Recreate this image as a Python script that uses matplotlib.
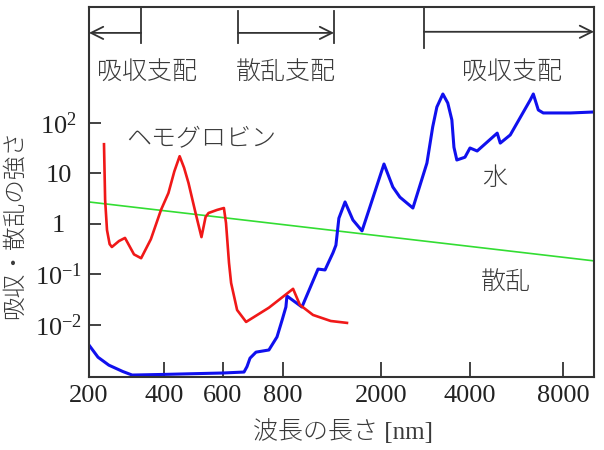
import numpy as np
import matplotlib as mp
mp.use('Agg')
import matplotlib.pyplot as plt
from matplotlib.ticker import FixedLocator, NullLocator

plt.rcParams['font.family'] = ['Liberation Serif', 'Noto Sans CJK JP']
plt.rcParams['mathtext.fontset'] = 'custom'
plt.rcParams['mathtext.rm'] = 'Liberation Serif'
plt.rcParams['mathtext.it'] = 'Liberation Serif:italic'

# hemoglobin absorption (wavelength nm, strength)
hb_wl = [240, 243, 248, 255, 261, 280, 296, 320, 339, 365, 392, 415, 435, 453, 468,
         483, 507, 527, 541, 551, 580, 603, 610, 620, 627, 647, 677, 753, 879, 937,
         1059, 1250, 1455]
hb_val = [38, 3.0, 0.76, 0.40, 0.35, 0.46, 0.53, 0.25, 0.21, 0.5, 1.9, 4.1, 11, 22, 13,
          6.5, 1.65, 0.55, 1.38, 1.65, 1.9, 2.07, 1.05, 0.17, 0.068, 0.0198, 0.0115, 0.022,
          0.052, 0.025, 0.0158, 0.012, 0.011]

# water absorption
w_wl = [200, 224, 253, 290, 315, 400, 485, 600, 670, 680, 690, 710, 753, 780, 797, 822,
        830, 955, 1110, 1185, 1277, 1312, 1349, 1429, 1538, 1675, 1803, 2047, 2193, 2317,
        2564, 2860, 2992, 3090, 3238, 3364, 3473, 3530, 3610, 3846, 4000, 4219, 4899, 5012,
        5400, 6266, 6412, 6655, 6906, 8440, 9950]
w_val = [0.0040, 0.0023, 0.0016, 0.0012, 0.00102, 0.00105, 0.00108, 0.00112, 0.00117,
         0.0015, 0.0022, 0.0029, 0.0032, 0.0058, 0.0125, 0.0227, 0.0375, 0.0227, 0.128,
         0.123, 0.27, 0.38, 1.3, 2.73, 1.2, 0.73, 2.17, 15.4, 5.4, 3.4, 2.07, 16.1, 84, 207,
         375, 249, 115, 33, 18.5, 21, 32, 27.9, 63, 40, 58, 285, 375, 181, 158, 158, 165]

# scattering
sc_wl = [200, 10000]
sc_val = [2.73, 0.186]

xticks = [200, 400, 600, 800, 2000, 4000, 8000]
yticks = [1e-2, 1e-1, 1, 10, 100]
ylabels = [r'$\mathregular{10^{-2}}$', r'$\mathregular{10^{-1}}$', '1', '10',
           r'$\mathregular{10^{2}}$']

# non-uniform wavelength axis: linear up to 800 nm, log above
anc_wl = np.array([200, 400, 600, 800, 2000, 4000, 8000, 10000], float)
anc_p = np.array([0, 75, 134, 194, 292, 381, 474, 505], float)


def fwd(x):
    x = np.asarray(x, float)
    lin = np.interp(x, anc_wl[:4], anc_p[:4])
    lg = np.interp(np.log10(np.clip(x, 1e-9, None)), np.log10(anc_wl[3:]), anc_p[3:])
    return np.where(x <= 800, lin, lg)


def inv(p):
    p = np.asarray(p, float)
    lin = np.interp(p, anc_p[:4], anc_wl[:4])
    lg = 10 ** np.interp(p, anc_p[3:], np.log10(anc_wl[3:]))
    return np.where(p <= 194, lin, lg)


fig = plt.figure(figsize=(6.04, 4.5), dpi=100)
ax = fig.add_axes([89 / 604, 73 / 450, 505 / 604, 370 / 450])
ax.set_xscale('function', functions=(fwd, inv))
ax.set_yscale('log')
ax.set_xlim(200, 10000)
ax.set_ylim(10 ** -3.03, 10 ** 4.297)

ax.plot(sc_wl, sc_val, color='#33dd33', lw=1.2)
ax.plot(w_wl, w_val, color='#1010ee', lw=2.2, solid_joinstyle='round')
ax.plot(hb_wl, hb_val, color='#f01818', lw=1.9, solid_joinstyle='round')

ax.xaxis.set_major_locator(FixedLocator(xticks))
ax.xaxis.set_minor_locator(NullLocator())
ax.set_xticklabels([str(t) for t in xticks], fontsize=19)
ax.yaxis.set_major_locator(FixedLocator(yticks))
ax.yaxis.set_minor_locator(NullLocator())
ax.set_yticklabels(ylabels, fontsize=19)
for lab in ax.get_yticklabels():
    lab.set_ha('center')
ax.tick_params(axis='x', direction='in', length=11, width=1.3, color='#333333', pad=6,
               labelcolor='#222222')
ax.tick_params(axis='y', direction='in', length=8.5, width=1.3, color='#333333', pad=22,
               labelcolor='#222222')
for s in ax.spines.values():
    s.set_color('#333333')
    s.set_linewidth(1.5)

# region brackets at the top
tr = ax.get_xaxis_transform()
gray = '#333333'
for x, y0, y1 in [(339, 1.0, 0.903), (650, 0.99, 0.903), (1289, 0.99, 0.903),
                  (2795, 1.0, 0.89)]:
    ax.plot([x, x], [y0, y1], color=gray, lw=1.3, transform=tr, clip_on=False)
arr = dict(arrowstyle='->', color=gray, lw=1.3, mutation_scale=22, shrinkA=0, shrinkB=0)
ax.annotate('', xy=(200, 0.930), xytext=(339, 0.930), xycoords=tr, textcoords=tr,
            arrowprops=arr)
ax.annotate('', xy=(1289, 0.930), xytext=(650, 0.930), xycoords=tr, textcoords=tr,
            arrowprops=arr)
ax.annotate('', xy=(10000, 0.933), xytext=(2795, 0.933), xycoords=tr, textcoords=tr,
            arrowprops=arr)

jp = ['Noto Sans CJK JP', 'DejaVu Sans']
tk = dict(transform=ax.transAxes, ha='center', va='center', fontsize=18, color='#3a3a3a',
          family=jp, fontweight='light')
ax.text(0.115, 0.824, '吸収支配', **tk)
ax.text(0.390, 0.824, '散乱支配', **tk)
ax.text(0.838, 0.824, '吸収支配', **tk)
ax.text(0.222, 0.643, 'ヘモグロビン', **tk)
ax.text(0.804, 0.538, '水', **tk)
ax.text(0.826, 0.257, '散乱', **tk)

fig.text(343 / 604, 1 - 432 / 450, '波長の長さ [nm]', ha='center', va='center', fontsize=18,
         color='#3a3a3a', fontweight='light')
fig.text(14 / 604, 1 - 224 / 450, '吸収・散乱の強さ', ha='center', va='center', fontsize=17,
         rotation=90, color='#3a3a3a', family=jp, fontweight='light')

plt.savefig('out.png', dpi=100)
